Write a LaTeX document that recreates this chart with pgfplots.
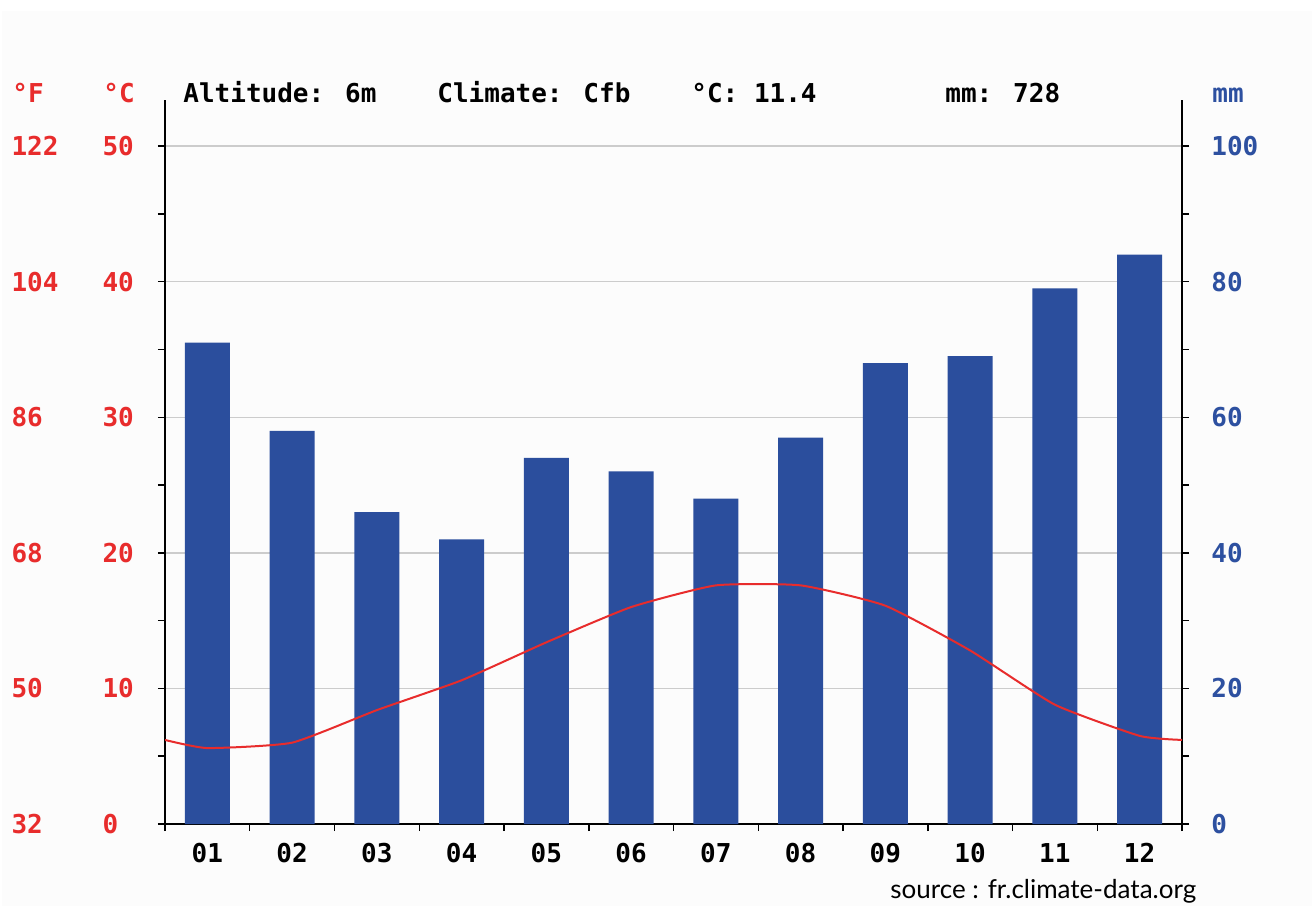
\documentclass[border=0pt]{standalone}
\usepackage{fontspec}
\usepackage{pgfplots}
\pgfplotsset{compat=1.18}
\setmainfont{DejaVu Sans Mono}
\newfontfamily\srcfont{Lato}
\definecolor{barblue}{RGB}{43,78,157}
\definecolor{lblblue}{RGB}{45,80,160}
\definecolor{tred}{RGB}{232,44,44}
\definecolor{bg}{RGB}{252,252,252}
\newcommand\fnt{\bfseries\fontsize{13pt}{13pt}\selectfont}
% degF column + degC column, left aligned like the original
\newcommand\fc[2]{\makebox[45.5pt][l]{#1}\makebox[28.5pt][l]{#2}}

\pgfplotsset{
  clim/.style={
    scale only axis, width=508.5pt, height=362pt,
    xmin=0.5, xmax=12.5,
    tick align=outside,
    major tick length=3.5pt, minor tick length=3.5pt,
    tick style={black, line width=0.75pt},
    axis line style={-, line width=1pt, black},
    tick label style={font=\fnt},
    /pgf/number format/assume math mode=true,
  },
}

\begin{document}
\begin{tikzpicture}[x=1pt,y=1pt]
% 1 px of the original = 0.5pt, axis origin at pixel (165,824)
\useasboundingbox (-82.5,-41) rectangle (573.5,412);
\clip (-82.5,-41) rectangle (573.5,412);
\fill[bg] (-81.5,-41) rectangle (573.5,406.5);

% temperature axis: grid, left ticks, months
\begin{axis}[clim,
  ymin=0, ymax=53.4,
  axis x line*=bottom, axis y line*=left,
  xtick={0.5,1.5,...,12.5}, xticklabels={},
  extra x ticks={1,...,12},
  extra x tick labels={01,02,03,04,05,06,07,08,09,10,11,12},
  extra x tick style={major tick length=0pt, xticklabel style={yshift=-6pt}},
  ytick={0,10,...,50}, minor ytick={5,15,...,45},
  yticklabels={\fc{32}{0},\fc{50}{10},\fc{68}{20},\fc{86}{30},\fc{104}{40},\fc{122}{50}},
  yticklabel style={tred, anchor=east, inner sep=0pt, xshift=1pt},
  ymajorgrids, grid style={line width=0.75pt, black!20},
]
\end{axis}

% precipitation axis: bars, right ticks
\begin{axis}[clim,
  ymin=0, ymax=106.8,
  axis x line=none, axis y line*=right,
  ytick={0,20,...,100}, minor ytick={10,30,...,90},
  yticklabel style={lblblue, anchor=west, inner sep=0pt, xshift=11pt},
]
\addplot[ybar, bar width=22.5pt, fill=barblue, draw=none] coordinates {
  (1,71) (2,58) (3,46) (4,42) (5,54) (6,52)
  (7,48) (8,57) (9,68) (10,69) (11,79) (12,84)};
\end{axis}

% temperature curve on top
\begin{axis}[clim, ymin=0, ymax=53.4, hide axis]
\addplot[tred, line width=1pt, smooth, tension=0.3] coordinates {
  (0.5,6.2) (1,5.6) (2,6.0) (3,8.4) (4,10.6) (5,13.4) (6,16.0)
  (7,17.6) (8,17.6) (9,16.1) (10,12.8) (11,8.8) (12,6.5) (12.5,6.2)};
\end{axis}

\node[anchor=base west, inner sep=0pt] at (9,360.5) {\fnt Altitude: 6m};
\node[anchor=base west, inner sep=0pt] at (136,360.5) {\fnt Climate: Cfb};
\node[anchor=base west, inner sep=0pt] at (263,360.5) {\fnt °C: 11.4};
\node[anchor=base west, inner sep=0pt] at (390,360.5) {\fnt mm: 728};
\node[anchor=base west, inner sep=0pt, text=tred] at (-76.5,360.5) {\fnt °F};
\node[anchor=base west, inner sep=0pt, text=tred] at (-31,360.5) {\fnt °C};
\node[anchor=base west, inner sep=0pt, text=lblblue] at (523.5,360.5) {\fnt mm};
\node[anchor=base west, inner sep=0pt] at (362.5,-37) {\srcfont\fontsize{13pt}{14pt}\selectfont source : fr.climate-data.org};
\end{tikzpicture}
\end{document}
